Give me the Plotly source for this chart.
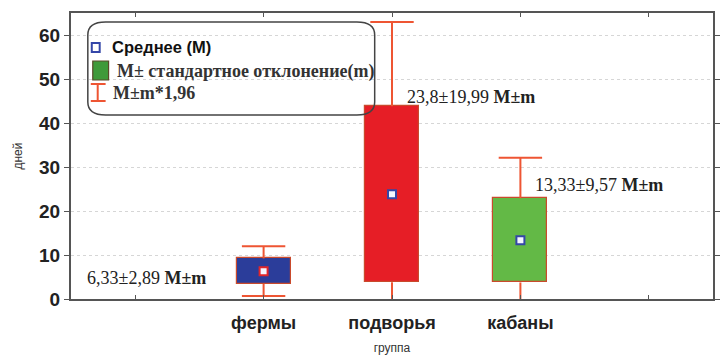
import plotly.graph_objects as go

# Groups and their statistics (mean, standard deviation in days)
groups = ["фермы", "подворья", "кабаны"]
group_pos = [1, 2, 3]
means = [6.33, 23.8, 13.33]
sds = [2.89, 19.99, 9.57]
factor = 1.96

box_colors = ["#2B3D9A", "#E61E26", "#63B946"]
mean_edge = ["#E0262A", "#3446A8", "#3446A8"]
whisker_color = "#EE5533"

# label anchor points (data coords) for the M±m texts
label_x = [-0.39, 2.10, 3.10]
label_y = [4.8, 45.9, 25.8]

y_ticks = [0, 10, 20, 30, 40, 50, 60]

W, H = 722, 356
ML, MR, MT, MB = 71, 2, 13, 57


def px(x):
    return (x - ML) / (W - ML - MR)


def py(y):
    return (H - MB - y) / (H - MT - MB)


def fmt(v):
    return ("%g" % v).replace(".", ",")


lo = [m - s for m, s in zip(means, sds)]
hi = [m + s for m, s in zip(means, sds)]
w_lo = [m - s * factor for m, s in zip(means, sds)]
w_hi = [m + s * factor for m, s in zip(means, sds)]

fig = go.Figure()

# boxes: mean ± sd
fig.add_trace(go.Bar(
    x=group_pos, y=[2 * s for s in sds], base=lo, width=0.42,
    marker=dict(color=box_colors, line=dict(color="#C94A2C", width=1.2)),
    showlegend=False, hoverinfo="skip",
))

# whisker stems outside the boxes
wx, wy = [], []
for p, a, b, c, d in zip(group_pos, hi, w_hi, lo, w_lo):
    wx += [p, p, None, p, p, None]
    wy += [a, b, None, c, d, None]
fig.add_trace(go.Scatter(
    x=wx, y=wy, mode="lines", line=dict(color=whisker_color, width=2),
    showlegend=False, hoverinfo="skip",
))
# whisker caps at mean ± 1.96*sd
fig.add_trace(go.Scatter(
    x=group_pos + group_pos, y=w_hi + w_lo, mode="markers",
    marker=dict(symbol="line-ew", size=31,
                line=dict(color=whisker_color, width=2)),
    showlegend=False, hoverinfo="skip",
))

# means
fig.add_trace(go.Scatter(
    x=group_pos, y=means, mode="markers",
    marker=dict(symbol="square", size=8, color="#F4F6FF",
                line=dict(color=mean_edge, width=2)),
    showlegend=False, hoverinfo="skip",
))

annotations = []
for i in range(len(groups)):
    annotations.append(dict(
        x=label_x[i], y=label_y[i], xref="x", yref="y", xanchor="left",
        yanchor="middle", showarrow=False,
        text=f"{fmt(means[i])}±{fmt(sds[i])} <b>M±m</b>",
        font=dict(family="Liberation Serif", size=18, color="#222222"),
    ))

# legend box content
annotations += [
    dict(x=px(110), y=py(47), xref="paper", yref="paper", xanchor="left",
         yanchor="middle", showarrow=False, text="<b>Среднее (М)</b>",
         font=dict(family="Liberation Sans", size=16.5, color="#111111")),
    dict(x=px(115), y=py(71), xref="paper", yref="paper", xanchor="left",
         yanchor="middle", showarrow=False,
         text="<b>M± стандартное отклонение(m)</b>",
         font=dict(family="Liberation Serif", size=18, color="#333333")),
    dict(x=px(111), y=py(93), xref="paper", yref="paper", xanchor="left",
         yanchor="middle", showarrow=False, text="<b>M±m*1,96</b>",
         font=dict(family="Liberation Serif", size=18, color="#333333")),
]

# rounded legend frame
x0, x1, y0, y1 = 88, 378, 22, 115
rx, ry = 18, 13
path = (
    f"M {px(x0 + rx)},{py(y0)} L {px(x1 - rx)},{py(y0)} "
    f"Q {px(x1)},{py(y0)} {px(x1)},{py(y0 + ry)} "
    f"L {px(x1)},{py(y1 - ry)} Q {px(x1)},{py(y1)} {px(x1 - rx)},{py(y1)} "
    f"L {px(x0 + rx)},{py(y1)} Q {px(x0)},{py(y1)} {px(x0)},{py(y1 - ry)} "
    f"L {px(x0)},{py(y0 + ry)} Q {px(x0)},{py(y0)} {px(x0 + rx)},{py(y0)} Z"
)
shapes = [
    dict(type="path", path=path, xref="paper", yref="paper",
         line=dict(color="#444444", width=1.5), fillcolor="rgba(255,255,255,0)"),
    # mean symbol
    dict(type="rect", xref="paper", yref="paper",
         x0=px(92), x1=px(100), y0=py(52), y1=py(43),
         line=dict(color="#3446A8", width=2), fillcolor="white"),
    # box symbol
    dict(type="rect", xref="paper", yref="paper",
         x0=px(93), x1=px(109), y0=py(80), y1=py(61),
         line=dict(color="#5A4A2A", width=1.2), fillcolor="#3F9A3A"),
    # whisker symbol
    dict(type="line", xref="paper", yref="paper",
         x0=px(98), x1=px(98), y0=py(84), y1=py(101),
         line=dict(color=whisker_color, width=2)),
    dict(type="line", xref="paper", yref="paper",
         x0=px(91), x1=px(106), y0=py(84), y1=py(84),
         line=dict(color=whisker_color, width=2)),
    dict(type="line", xref="paper", yref="paper",
         x0=px(91), x1=px(106), y0=py(101), y1=py(101),
         line=dict(color=whisker_color, width=2)),
]

fig.update_layout(
    width=W, height=H,
    margin=dict(l=ML, r=MR, t=MT, b=MB),
    paper_bgcolor="white", plot_bgcolor="white",
    annotations=annotations, shapes=shapes,
    bargap=0,
)
fig.update_xaxes(
    range=[-0.5, 4.5],
    tickvals=[0, 1, 2, 3, 4],
    ticktext=["", groups[0], groups[1], groups[2], ""],
    ticks="inside", ticklen=4, tickcolor="#555555",
    ticklabelstandoff=6,
    tickfont=dict(family="Liberation Sans", size=18, color="#222222", weight="bold"),
    showline=True, linecolor="#555555", linewidth=2, mirror="ticks",
    showgrid=False, zeroline=False,
    title=dict(text="группа", standoff=12,
               font=dict(family="Liberation Sans", size=12, color="#333333")),
)
fig.update_yaxes(
    range=[0, 65],
    tickvals=y_ticks,
    ticks="outside", ticklen=5, tickcolor="#555555",
    tickfont=dict(family="Liberation Sans", size=19, color="#222222", weight="bold"),
    showline=True, linecolor="#555555", linewidth=2, mirror="ticks",
    showgrid=True, gridcolor="#D6D6D6", griddash="dot", gridwidth=1,
    zeroline=False,
    title=dict(text="дней", standoff=14,
               font=dict(family="Liberation Sans", size=12, color="#333333")),
)

fig.write_html("out.html")
